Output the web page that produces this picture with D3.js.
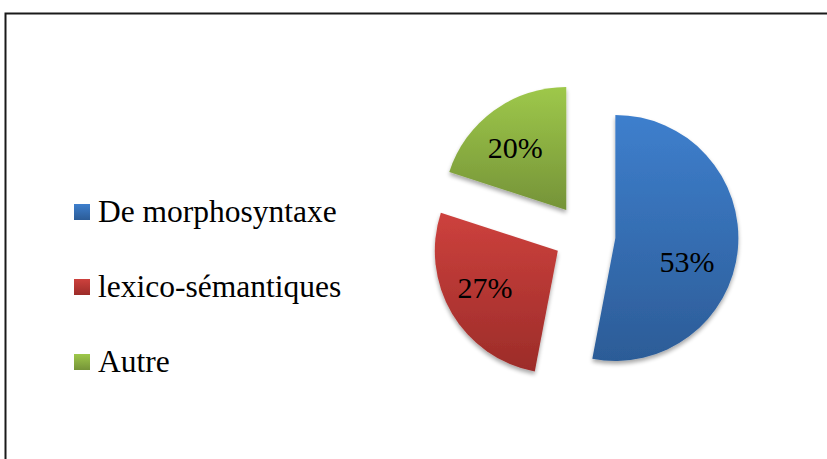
<!DOCTYPE html>
<html>
<head>
<meta charset="utf-8">
<script src="https://cdn.jsdelivr.net/npm/d3@7"></script>
<style>
  html, body { margin: 0; padding: 0; background: #fff; }
  svg { display: block; }
</style>
</head>
<body>
<svg id="chart" width="827" height="459"></svg>
<script>
// Share of each error type
const categories = ["De morphosyntaxe", "lexico-sémantiques", "Autre"];
const values = [53, 27, 20];
const valueLabels = ["53%", "27%", "20%"];

// Gradient stops per slice (light top, dark bottom)
const colorsTop = ["#3e7fcd", "#cd413d", "#9ec84a"];
const colorsBottom = ["#2c5c97", "#9c2c29", "#759338"];

const FONT = "'Liberation Serif', 'Times New Roman', Times, 'DejaVu Serif', serif";

const svg = d3.select("#chart");

// Chart frame
svg.append("rect")
  .attr("x", 5.5).attr("y", 13.5)
  .attr("width", 900).attr("height", 600)
  .attr("fill", "none")
  .attr("stroke", "#1a1a1a")
  .attr("stroke-width", 2);

const defs = svg.append("defs");

categories.forEach((c, i) => {
  const g = defs.append("linearGradient")
    .attr("id", "grad" + i)
    .attr("x1", 0).attr("y1", 0).attr("x2", 0).attr("y2", 1);
  g.append("stop").attr("offset", "0%").attr("stop-color", colorsTop[i]);
  g.append("stop").attr("offset", "100%").attr("stop-color", colorsBottom[i]);
});

// Soft drop shadow under the slices
const shadow = defs.append("filter")
  .attr("id", "shadow")
  .attr("x", "-20%").attr("y", "-20%")
  .attr("width", "140%").attr("height", "140%");
shadow.append("feGaussianBlur").attr("in", "SourceAlpha").attr("stdDeviation", 2.2).attr("result", "blur");
shadow.append("feOffset").attr("in", "blur").attr("dx", 0).attr("dy", 2.5).attr("result", "off");
shadow.append("feComponentTransfer").attr("in", "off").attr("result", "soft")
  .append("feFuncA").attr("type", "linear").attr("slope", 0.35);
const merge = shadow.append("feMerge");
merge.append("feMergeNode").attr("in", "soft");
merge.append("feMergeNode").attr("in", "SourceGraphic");

// Pie layout
const cx = 584.5, cy = 235;
const radius = 123;
const explode = 31;
const labelRadius = 80;

const pie = d3.pie().sort(null).value(d => d)
  .startAngle(0).endAngle(2 * Math.PI);
const arcs = pie(values);

const arc = d3.arc().innerRadius(0).outerRadius(radius);
const labelArc = d3.arc().innerRadius(labelRadius).outerRadius(labelRadius);

// Fine offsets for the value labels
const labelDx = [-8, -4, -4];
const labelDy = [16.5, -4, 2];

const pieG = svg.append("g").attr("transform", `translate(${cx},${cy})`);

const slices = pieG.selectAll("g.slice")
  .data(arcs)
  .join("g")
  .attr("class", "slice")
  .attr("transform", d => {
    const mid = (d.startAngle + d.endAngle) / 2;
    return `translate(${explode * Math.sin(mid)},${-explode * Math.cos(mid)})`;
  });

slices.append("path")
  .attr("d", arc)
  .attr("fill", (d, i) => `url(#grad${i})`)
  .attr("filter", "url(#shadow)");

slices.append("text")
  .attr("transform", (d, i) => {
    const [x, y] = labelArc.centroid(d);
    return `translate(${x + labelDx[i]},${y + labelDy[i]})`;
  })
  .attr("text-anchor", "middle")
  .attr("dy", "0.35em")
  .attr("font-family", FONT)
  .attr("font-size", 30)
  .attr("fill", "#000")
  .text((d, i) => valueLabels[i]);

// Legend
const legendX = 74, legendY = 204, legendStep = 75, sw = 16;
const legend = svg.append("g");
const items = legend.selectAll("g.item")
  .data(categories)
  .join("g")
  .attr("class", "item")
  .attr("transform", (d, i) => `translate(${legendX},${legendY + i * legendStep})`);

items.append("rect")
  .attr("width", sw).attr("height", sw)
  .attr("fill", (d, i) => `url(#grad${i})`);

items.append("text")
  .attr("x", 24)
  .attr("y", 18)
  .attr("font-family", FONT)
  .attr("font-size", 31.5)
  .attr("fill", "#000")
  .text(d => d);
</script>
</body>
</html>
